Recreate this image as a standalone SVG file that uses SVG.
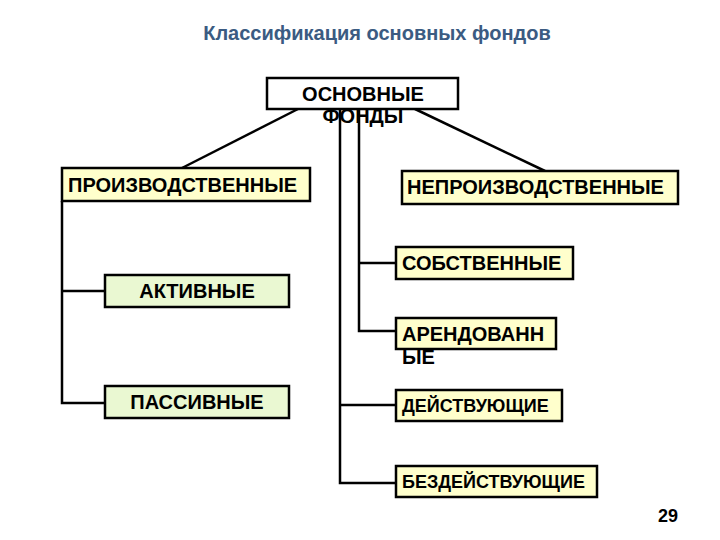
<svg xmlns="http://www.w3.org/2000/svg" width="720" height="540" viewBox="0 0 720 540">
<style>
.box{stroke:#000;stroke-width:2.5}
.y{fill:#ffffcc}
.g{fill:#eaf8d2}
.w{fill:#fff}
text{font-family:"Liberation Sans",Arial,sans-serif;font-weight:bold;fill:#000}
.t{font-size:20px}
.s{font-size:18px}
.c{stroke:#000;stroke-width:2.5;fill:none}
</style>
<rect width="720" height="540" fill="#fff"/>
<text x="377" y="40" font-size="20" text-anchor="middle" style="fill:#3b5b82">Классификация основных фондов</text>
<g id="connectors">
<line class="c" x1="298" y1="109" x2="182" y2="168"/>
<line class="c" x1="415" y1="109" x2="545" y2="171"/>
<polyline class="c" points="359,109 359,331 396,331"/>
<line class="c" x1="359" y1="263" x2="396" y2="263"/>
<polyline class="c" points="340,109 340,483 396,483"/>
<line class="c" x1="340" y1="405" x2="396" y2="405"/>
<polyline class="c" points="62,201 62,403 105,403"/>
<line class="c" x1="62" y1="291" x2="105" y2="291"/>
</g>
<g id="osnovnye">
<rect class="box w" x="267" y="78" width="191" height="31"/>
<text class="t" x="363" y="101" text-anchor="middle">ОСНОВНЫЕ</text>
<text class="t" x="363" y="123" text-anchor="middle">ФОНДЫ</text>
</g>
<g id="proizv">
<rect class="box y" x="62" y="168" width="248" height="33"/>
<text class="t" x="68" y="192">ПРОИЗВОДСТВЕННЫЕ</text>
</g>
<g id="neproizv">
<rect class="box y" x="402" y="171" width="276" height="33"/>
<text class="t" x="407" y="194">НЕПРОИЗВОДСТВЕННЫЕ</text>
</g>
<g id="aktivnye">
<rect class="box g" x="105" y="275" width="184" height="32"/>
<text class="t" x="197" y="298" text-anchor="middle">АКТИВНЫЕ</text>
</g>
<g id="passivnye">
<rect class="box g" x="105" y="386" width="184" height="32"/>
<text class="t" x="197" y="409" text-anchor="middle">ПАССИВНЫЕ</text>
</g>
<g id="sobstv">
<rect class="box y" x="396" y="247" width="177" height="32"/>
<text class="t" x="402" y="270">СОБСТВЕННЫЕ</text>
</g>
<g id="arend">
<rect class="box y" x="396" y="318" width="160" height="31"/>
<text class="t" x="402" y="341">АРЕНДОВАНН</text>
<text class="t" x="402" y="364">ЫЕ</text>
</g>
<g id="deistv">
<rect class="box y" x="396" y="390" width="166" height="31"/>
<text class="s" x="402" y="412">ДЕЙСТВУЮЩИЕ</text>
</g>
<g id="bezdeistv">
<rect class="box y" x="396" y="466" width="201" height="31"/>
<text class="s" x="402" y="488">БЕЗДЕЙСТВУЮЩИЕ</text>
</g>
<text x="668" y="522" font-size="18" text-anchor="middle">29</text>
</svg>
